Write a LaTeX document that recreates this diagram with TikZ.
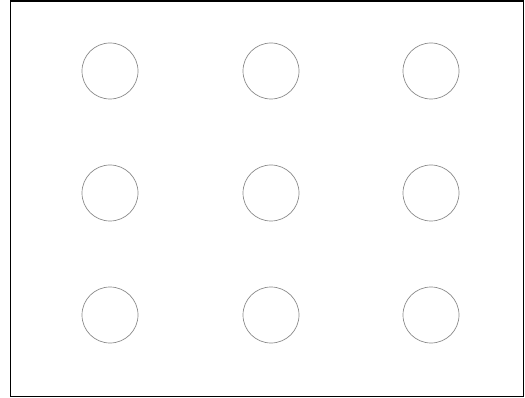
\documentclass[tikz,border=0pt]{standalone}
\begin{document}
\begin{tikzpicture}[x=1pt,y=-1pt,
  ring/.style={circle, draw=black!45, line width=0.7pt, minimum size=56pt, inner sep=0pt},
  frameline/.style={draw=black, line width=1.6pt}]
\useasboundingbox (0,0) rectangle (525,398);
\fill[white] (0,0) rectangle (525,398);
\draw[frameline] (10.5,1) rectangle (523.5,396.5);
\foreach \r/\y in {1/71,2/193,3/315}{
  \foreach \c/\x in {1/110,2/271,3/431}{
    \node[ring] (c\r\c) at (\x,\y) {};
  }
}
\end{tikzpicture}
\end{document}
